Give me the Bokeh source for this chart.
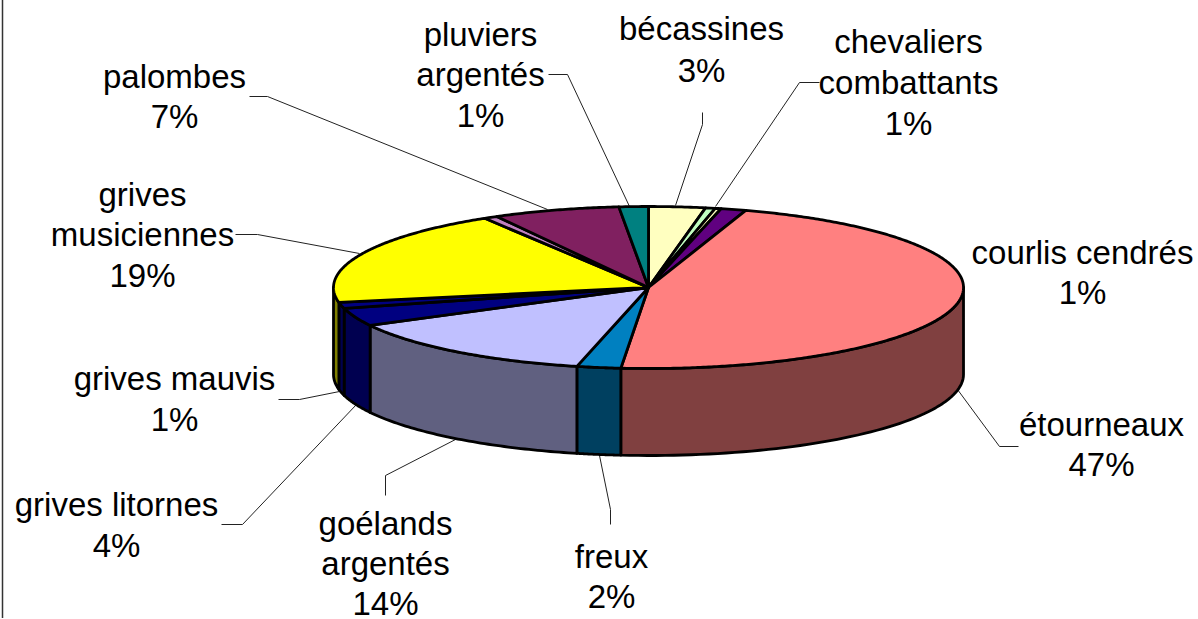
import numpy as np
from bokeh.plotting import figure
from bokeh.models import Range1d
from bokeh.core.properties import value
from bokeh.embed import file_html
from bokeh.resources import INLINE

# Slices clockwise from 12 o'clock
categories = ["bécassines", "chevaliers combattants", "(sans nom a)", "courlis cendrés", "étourneaux", "freux",
              "goélands argentés", "grives litornes", "grives mauvis", "grives musiciennes",
              "(sans nom b)", "palombes", "pluviers argentés"]
values = [2.9, 0.5, 0.3, 1.3, 46.4, 2.25, 13.6, 3.6, 1.2, 19.25, 0.7, 6.5, 1.5]
top_colors = ["#FFFFC0", "#C0FFC0", "#FFFFC0", "#600080", "#FF8080", "#0080C0",
              "#C0C0FF", "#000080", "#000080", "#FFFF00", "#C080C0", "#802060", "#008080"]
side_colors = ["#808060", "#608060", "#808060", "#300040", "#804040", "#004060",
               "#606080", "#000050", "#000050", "#808000", "#604060", "#401030", "#004040"]

# Label layout: text line, centre x, centre y
label_lines = ["bécassines", "3%", "pluviers", "argentés", "1%", "palombes", "7%",
               "chevaliers", "combattants", "1%", "courlis cendrés", "1%",
               "étourneaux", "47%", "freux", "2%", "goélands", "argentés", "14%",
               "grives litornes", "4%", "grives mauvis", "1%", "grives", "musiciennes", "19%"]
label_x = [702, 702, 481, 481, 481, 175, 175, 909, 909, 909, 1083, 1083,
           1102, 1102, 612, 612, 386, 386, 386, 117, 117, 175, 175, 143, 143, 143]
label_y = [29, 71, 35, 75, 116, 77, 117, 42, 83, 124, 253, 293,
           425, 465, 557, 597, 524, 564, 604, 505, 546, 379, 420, 195, 235, 276]

leader_xs = [[250, 268, 548], [549, 568, 630], [703, 703, 676], [820, 800, 716],
             [1019, 1000, 958], [611, 611, 600], [386, 386, 456], [222, 243, 357],
             [279, 300, 340], [236, 258, 360]]
leader_ys = [[97, 97, 210], [75, 75, 207], [113, 125, 206], [83, 83, 207],
             [447, 447, 390], [525, 510, 456], [496, 476, 440], [525, 525, 405],
             [400, 400, 392], [235, 235, 254]]

CX, CY, A, B, DEPTH = 649, 288, 315, 81, 87


def pt(deg, dy=0.0):
    t = np.radians(deg)
    return CX + A * np.sin(t), CY - B * np.cos(t) + dy


edges = np.concatenate([[0], np.cumsum(values)]) / np.sum(values) * 360

p = figure(width=1198, height=619, output_backend="svg", toolbar_location=None,
           x_range=Range1d(0, 1198), y_range=Range1d(619, 0), min_border=0,
           margin=(-1, 0, 0, -1), outline_line_color=None, background_fill_color="white")
p.xaxis.visible = False
p.yaxis.visible = False
p.grid.visible = False

# Frame edge at the left
p.line([3, 3], [0, 619], line_color="#333333", line_width=1.5)

# Leader lines
p.multi_line(leader_xs, leader_ys, line_color="#222222", line_width=1)

# Visible rim (front half only)
sx, sy = [], []
sc = []
for a0, a1, c in zip(edges[:-1], edges[1:], side_colors):
    lo, hi = max(a0, 90), min(a1, 270)
    if hi <= lo:
        continue
    ang = np.linspace(lo, hi, 60)
    x0, y0 = pt(ang)
    x1, y1 = pt(ang[::-1], DEPTH)
    sx.append(list(x0) + list(x1))
    sy.append(list(y0) + list(y1))
    sc.append(c)
p.patches(sx, sy, fill_color=sc, line_color="black", line_width=2.8, line_join="round")

# Top slices
tx, ty = [], []
for a0, a1 in zip(edges[:-1], edges[1:]):
    ang = np.linspace(a0, a1, max(3, int(a1 - a0) * 2))
    x0, y0 = pt(ang)
    tx.append([CX] + list(x0))
    ty.append([CY] + list(y0))
p.patches(tx, ty, fill_color=top_colors, line_color="black", line_width=2.8, line_join="round")

p.text(label_x, label_y, text=label_lines, text_font=value("Liberation Sans"),
       text_font_size="33px", text_color="black", text_align="center", text_baseline="middle")

open("out.html", "w").write(file_html(p, INLINE))
